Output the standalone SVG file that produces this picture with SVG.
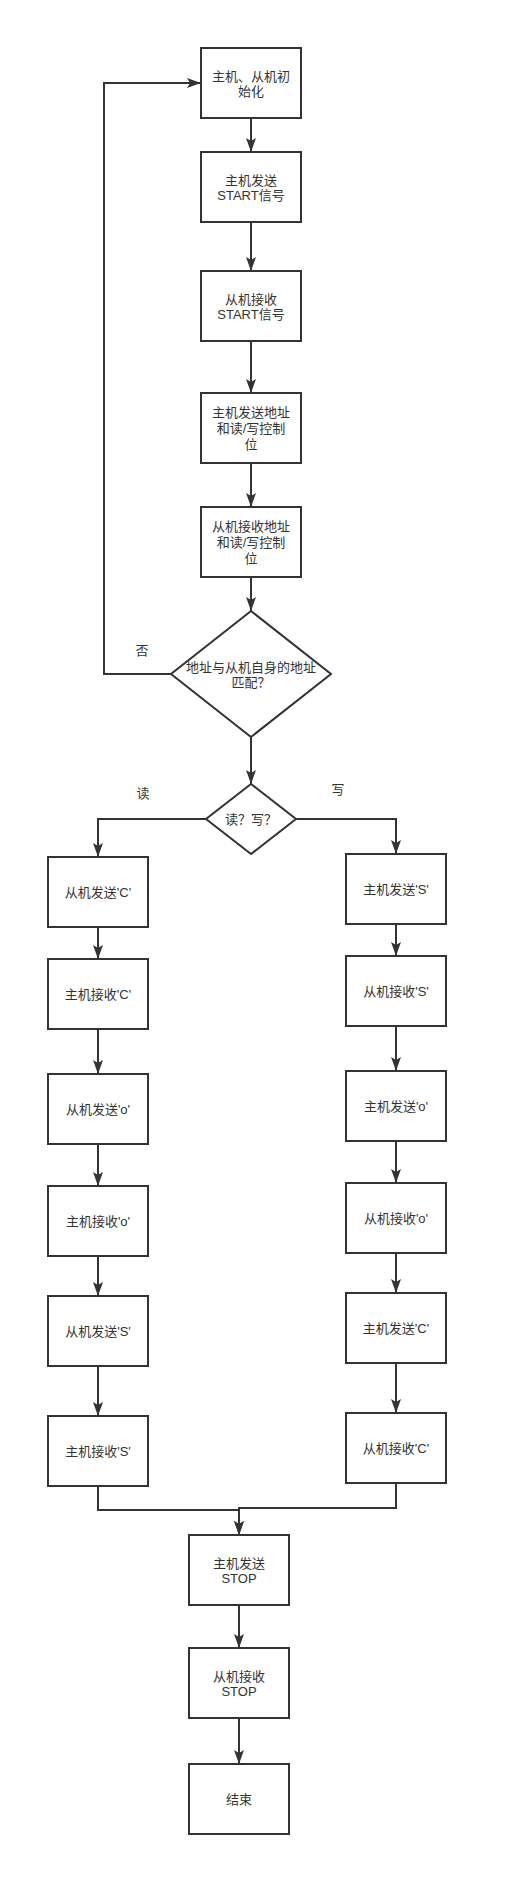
<svg xmlns="http://www.w3.org/2000/svg" width="507" height="1896" viewBox="0 0 507 1896">
<style>
.n{fill:#fff;stroke:#333;stroke-width:2}
.t{font-family:"Liberation Sans","Noto Sans CJK SC",sans-serif;font-size:13px;fill:#333;text-anchor:middle;dominant-baseline:central}
.c{fill:none;stroke:#333;stroke-width:2}
</style>
<defs>
<marker id="a" markerUnits="userSpaceOnUse" markerWidth="16" markerHeight="12" viewBox="-15 -6 16 12" refX="0" refY="0" orient="auto">
<path d="M0,0 L-14,-5 L-11,0 L-14,5 Z" fill="#333"/>
</marker>
</defs>
<rect width="507" height="1896" fill="#fff"/>
<g id="connectors">
<path class="c" d="M251,118 V152" marker-end="url(#a)"/>
<path class="c" d="M251,222 V271" marker-end="url(#a)"/>
<path class="c" d="M251,341 V393" marker-end="url(#a)"/>
<path class="c" d="M251,463 V507" marker-end="url(#a)"/>
<path class="c" d="M251,577 V611" marker-end="url(#a)"/>
<path class="c" d="M171,674 H104 V83 H201" marker-end="url(#a)"/>
<path class="c" d="M251,737 V784" marker-end="url(#a)"/>
<path class="c" d="M206,819 H98 V857" marker-end="url(#a)"/>
<path class="c" d="M296,819 H396 V854" marker-end="url(#a)"/>
<path class="c" d="M98,927 V959" marker-end="url(#a)"/>
<path class="c" d="M98,1029 V1074" marker-end="url(#a)"/>
<path class="c" d="M98,1144 V1186" marker-end="url(#a)"/>
<path class="c" d="M98,1256 V1296" marker-end="url(#a)"/>
<path class="c" d="M98,1366 V1416" marker-end="url(#a)"/>
<path class="c" d="M396,924 V956" marker-end="url(#a)"/>
<path class="c" d="M396,1026 V1071" marker-end="url(#a)"/>
<path class="c" d="M396,1141 V1183" marker-end="url(#a)"/>
<path class="c" d="M396,1253 V1293" marker-end="url(#a)"/>
<path class="c" d="M396,1363 V1413" marker-end="url(#a)"/>
<path class="c" d="M98,1486 V1510 H239 V1535" marker-end="url(#a)"/>
<path class="c" d="M396,1483 V1508 H239 V1535" marker-end="url(#a)"/>
<path class="c" d="M239,1605 V1648" marker-end="url(#a)"/>
<path class="c" d="M239,1718 V1764" marker-end="url(#a)"/>
<text class="t" x="142" y="650">否</text>
<text class="t" x="143" y="793">读</text>
<text class="t" x="338" y="789">写</text>
</g>
<g id="b1"><rect class="n" x="201" y="48" width="100" height="70"/><text class="t" x="251" y="76">主机、从机初</text><text class="t" x="251" y="91">始化</text></g>
<g id="b2"><rect class="n" x="201" y="152" width="100" height="70"/><text class="t" x="251" y="180">主机发送</text><text class="t" x="251" y="195">START信号</text></g>
<g id="b3"><rect class="n" x="201" y="271" width="100" height="70"/><text class="t" x="251" y="299">从机接收</text><text class="t" x="251" y="314">START信号</text></g>
<g id="b4"><rect class="n" x="201" y="393" width="100" height="70"/><text class="t" x="251" y="412">主机发送地址</text><text class="t" x="251" y="428">和读/写控制</text><text class="t" x="251" y="444">位</text></g>
<g id="b5"><rect class="n" x="201" y="507" width="100" height="70"/><text class="t" x="251" y="526">从机接收地址</text><text class="t" x="251" y="542">和读/写控制</text><text class="t" x="251" y="558">位</text></g>
<g id="d1"><path class="n" d="M251,611 L331,674 L251,737 L171,674 Z"/><text class="t" x="251" y="667">地址与从机自身的地址</text><text class="t" x="251" y="682">匹配？</text></g>
<g id="d2"><path class="n" d="M251,784 L296,819 L251,854 L206,819 Z"/><text class="t" x="251" y="819">读？写？</text></g>
<g id="l1"><rect class="n" x="48" y="857" width="100" height="70"/><text class="t" x="98" y="892">从机发送'C'</text></g>
<g id="l2"><rect class="n" x="48" y="959" width="100" height="70"/><text class="t" x="98" y="994">主机接收'C'</text></g>
<g id="l3"><rect class="n" x="48" y="1074" width="100" height="70"/><text class="t" x="98" y="1109">从机发送'o'</text></g>
<g id="l4"><rect class="n" x="48" y="1186" width="100" height="70"/><text class="t" x="98" y="1221">主机接收'o'</text></g>
<g id="l5"><rect class="n" x="48" y="1296" width="100" height="70"/><text class="t" x="98" y="1331">从机发送'S'</text></g>
<g id="l6"><rect class="n" x="48" y="1416" width="100" height="70"/><text class="t" x="98" y="1451">主机接收'S'</text></g>
<g id="r1"><rect class="n" x="346" y="854" width="100" height="70"/><text class="t" x="396" y="889">主机发送'S'</text></g>
<g id="r2"><rect class="n" x="346" y="956" width="100" height="70"/><text class="t" x="396" y="991">从机接收'S'</text></g>
<g id="r3"><rect class="n" x="346" y="1071" width="100" height="70"/><text class="t" x="396" y="1106">主机发送'o'</text></g>
<g id="r4"><rect class="n" x="346" y="1183" width="100" height="70"/><text class="t" x="396" y="1218">从机接收'o'</text></g>
<g id="r5"><rect class="n" x="346" y="1293" width="100" height="70"/><text class="t" x="396" y="1328">主机发送'C'</text></g>
<g id="r6"><rect class="n" x="346" y="1413" width="100" height="70"/><text class="t" x="396" y="1448">从机接收'C'</text></g>
<g id="s1"><rect class="n" x="189" y="1535" width="100" height="70"/><text class="t" x="239" y="1563">主机发送</text><text class="t" x="239" y="1578">STOP</text></g>
<g id="s2"><rect class="n" x="189" y="1648" width="100" height="70"/><text class="t" x="239" y="1676">从机接收</text><text class="t" x="239" y="1691">STOP</text></g>
<g id="s3"><rect class="n" x="189" y="1764" width="100" height="70"/><text class="t" x="239" y="1799">结束</text></g>
</svg>
